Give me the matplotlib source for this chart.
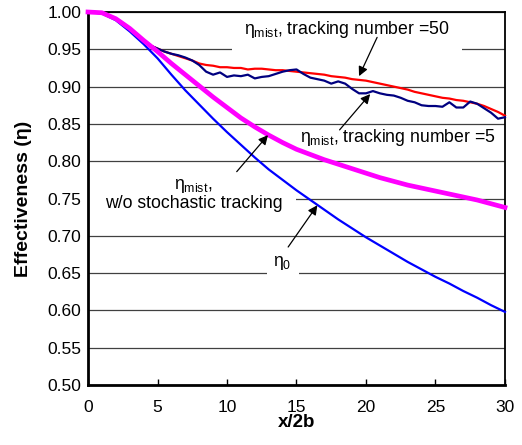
import numpy as np
import matplotlib
matplotlib.use("Agg")
import matplotlib.pyplot as plt
from matplotlib.patches import Rectangle

plt.rcParams['font.family'] = ['Liberation Sans', 'DejaVu Sans']
plt.rcParams['mathtext.fontset'] = 'custom'
plt.rcParams['mathtext.rm'] = 'Liberation Sans'
plt.rcParams['mathtext.it'] = 'Liberation Sans:italic'

# x/2b positions, 0.5 step
x_half = np.arange(0, 30.5, 0.5)
# x/2b positions, 1.0 step
x_one = np.arange(0, 31, 1.0)

start_mist = [1.0, 1.0, 0.999, 0.996, 0.991, 0.985, 0.978, 0.970, 0.962, 0.955]

eta_50 = start_mist + [
    0.951, 0.947, 0.944, 0.941, 0.938, 0.935, 0.931, 0.929, 0.928, 0.926,
    0.926, 0.925, 0.925, 0.923, 0.924, 0.924, 0.923, 0.922, 0.922, 0.921,
    0.920, 0.919, 0.918, 0.917, 0.916, 0.914, 0.913, 0.912, 0.910, 0.909,
    0.908, 0.906, 0.904, 0.902, 0.900, 0.898, 0.896, 0.893, 0.891, 0.889,
    0.887, 0.885, 0.884, 0.882, 0.881, 0.879, 0.877, 0.874, 0.870, 0.866,
    0.861]

eta_5 = start_mist + [
    0.951, 0.947, 0.944, 0.942, 0.939, 0.935, 0.929, 0.920, 0.916, 0.919,
    0.913, 0.915, 0.914, 0.916, 0.911, 0.913, 0.914, 0.917, 0.920, 0.922,
    0.923, 0.917, 0.912, 0.910, 0.908, 0.904, 0.907, 0.904, 0.897, 0.891,
    0.891, 0.894, 0.891, 0.889, 0.888, 0.885, 0.881, 0.879, 0.875, 0.874,
    0.874, 0.873, 0.879, 0.872, 0.872, 0.880, 0.877, 0.871, 0.865, 0.857,
    0.859]

eta_nostoch = [1.0, 0.999, 0.991, 0.978, 0.962, 0.947, 0.931, 0.916, 0.901, 0.886,
               0.872, 0.858, 0.846, 0.835, 0.825, 0.816, 0.809, 0.802, 0.796, 0.790,
               0.784, 0.778, 0.773, 0.768, 0.764, 0.760, 0.756, 0.752, 0.748, 0.743,
               0.738]

eta_0 = [1.0, 0.998, 0.989, 0.974, 0.957, 0.938, 0.916, 0.895, 0.876, 0.857,
         0.839, 0.822, 0.805, 0.789, 0.775, 0.761, 0.748, 0.735, 0.722, 0.710,
         0.698, 0.687, 0.676, 0.665, 0.655, 0.645, 0.636, 0.626, 0.617, 0.607,
         0.598]

x_ticks = [0, 5, 10, 15, 20, 25, 30]
y_ticks = np.arange(0.50, 1.001, 0.05)

fig = plt.figure(figsize=(5.22, 4.45), dpi=100)
ax = fig.add_axes([0.1686, 0.1348, 0.7988, 0.8382])

ax.set_axisbelow(True)
ax.yaxis.grid(True, color='#404040', linewidth=0.9)

ax.plot(x_one, eta_0, color='#0000FF', lw=1.6, zorder=3, clip_on=False)
ax.plot(x_half, eta_50, color='#FF0000', lw=1.6, zorder=3, clip_on=False)
ax.plot(x_half, eta_5, color='#000080', lw=1.6, zorder=4, clip_on=False)
ax.plot(x_one, eta_nostoch, color='#FF00FF', lw=3.4, zorder=5, clip_on=False)

# white boxes behind the labels hide parts of the grid
for (x0, x1, y0, y1) in [(10.36, 26.9, 0.94, 0.99), (0.1, 15.0, 0.744, 0.756),
                         (12.9, 15.2, 0.644, 0.656)]:
    ax.add_patch(Rectangle((x0, y0), x1 - x0, y1 - y0, facecolor='white',
                           edgecolor='none', zorder=1))

fs = 12.7
ax.text(18.6, 0.976, 'η$_{\\mathrm{mist}}$, tracking number =50', fontsize=fs,
        ha='center', va='center', zorder=6)
ax.text(22.3, 0.832, 'η$_{\\mathrm{mist}}$, tracking number =5', fontsize=fs,
        ha='center', va='center', zorder=6)
ax.text(7.6, 0.756, 'η$_{\\mathrm{mist}}$,\nw/o stochastic tracking', fontsize=fs,
        ha='center', va='center', zorder=6, linespacing=1.0)
ax.text(14.0, 0.6635, 'η$_0$', fontsize=fs, ha='center', va='center', zorder=6)

arrow = dict(arrowstyle='-|>', color='black', lw=0.9, mutation_scale=14,
             shrinkA=0, shrinkB=0)
for tail, tip in [((20.8, 0.966), (19.5, 0.914)),
                  ((18.1, 0.842), (20.3, 0.890)),
                  ((10.7, 0.786), (12.95, 0.835)),
                  ((14.4, 0.685), (16.5, 0.741))]:
    ax.annotate('', xy=tip, xytext=tail, arrowprops=arrow, zorder=7)

ax.set_xlim(0, 30)
ax.set_ylim(0.5, 1.0)
ax.set_xticks(x_ticks)
ax.set_yticks(y_ticks)
ax.set_yticklabels([f'{v:.2f}' for v in y_ticks])
ax.tick_params(axis='x', direction='in', length=4, width=1, pad=11, labelsize=12.5)
ax.tick_params(axis='y', length=0, pad=5, labelsize=12.5)

for side in ['top', 'right']:
    ax.spines[side].set_linewidth(1.3)
for side in ['left', 'bottom']:
    ax.spines[side].set_linewidth(2.0)

ax.set_xlabel('x/2b', fontsize=13.5, fontweight='bold', labelpad=-1)
ax.set_ylabel('Effectiveness (η)', fontsize=14, fontweight='bold', labelpad=11)

fig.savefig('out.png', dpi=100)
